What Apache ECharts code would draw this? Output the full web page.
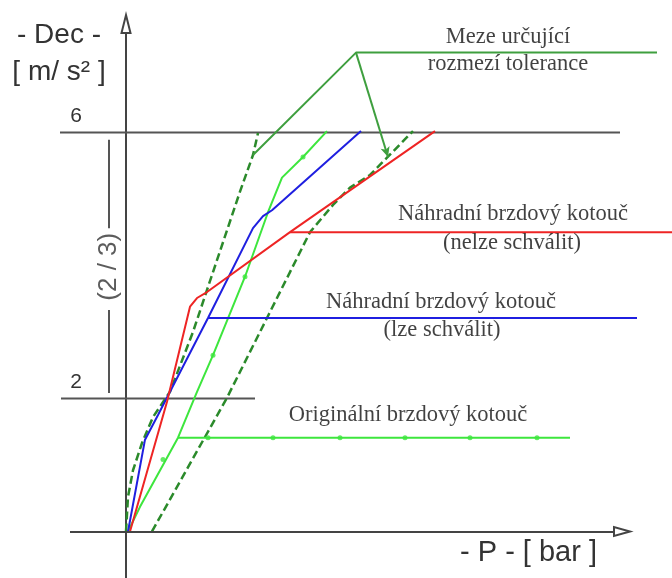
<!DOCTYPE html>
<html><head><meta charset="utf-8">
<script src="https://cdn.jsdelivr.net/npm/echarts@6/dist/echarts.min.js"></script>
<style>html,body{margin:0;padding:0;background:#fff}#c{width:672px;height:578px}</style>
</head><body><div id="c"></div>
<script>
// ---- values (x: pressure, arbitrary bar units; y: deceleration m/s²) ----
const yTickValues = [2, 6];
const xAxisLineX = [-5.6, 49.6];  const xAxisLineY = [0, 0];

const ref6X = [-6.6, 49.4];      const ref6Y = [6, 6];
const ref2X = [-6.5, 12.9];      const ref2Y = [2, 2];
const bracketAX = [-1.7, -1.7];  const bracketAY = [5.89, 4.56];
const bracketBX = [-1.7, -1.7];  const bracketBY = [3.33, 2.08];
const bracketText = ['(2 / 3)']; const bracketTX = [-1.7]; const bracketTY = [3.98];

const tolLowX  = [0, 0.2, 0.7, 1.6, 2.7, 4.4, 6.7, 8.7, 11.4, 12.7, 13.2];
const tolLowY  = [0, 0.52, 0.92, 1.33, 1.72, 2.10, 3.00, 3.90, 5.11, 5.66, 5.99];
const tolHighX = [2.6, 10.1, 14.1, 16.4, 18.4, 20.7, 22.4, 24.4, 26.1, 28.7];
const tolHighY = [0, 2.01, 3.21, 3.90, 4.50, 4.91, 5.17, 5.36, 5.62, 6.02];
const limitLinkX  = [12.7, 23.0, 53.1];
const limitLinkY  = [5.66, 7.20, 7.20];
const limitArrowX = [23.0, 26.2];
const limitArrowY = [7.20, 5.63];

const origX = [0.2, 1.4, 5.2, 7.1, 8.7, 11.9, 14.2, 15.6, 17.7, 20.1];
const origY = [0, 0.37, 1.41, 2.10, 2.65, 3.83, 4.80, 5.32, 5.63, 6.02];
const origLeaderX = [5.2, 44.4];  const origLeaderY = [1.41, 1.41];
const origMarkX = [3.7, 8.7, 11.9, 17.7, 8.2, 14.7, 21.4, 27.9, 34.4, 41.1];
const origMarkY = [1.08, 2.65, 3.83, 5.63, 1.41, 1.41, 1.41, 1.41, 1.41, 1.41];

const okX = [0.2, 1.9, 3.2, 8.2, 12.7, 13.7, 14.6, 23.5];
const okY = [0, 1.38, 1.75, 3.21, 4.56, 4.74, 4.83, 6.02];
const okLeaderX = [8.2, 51.1];   const okLeaderY = [3.21, 3.21];

const nokX = [0.4, 4.1, 6.4, 7.1, 8.1, 16.4, 30.9];
const nokY = [0, 1.95, 3.38, 3.51, 3.60, 4.50, 6.02];
const nokLeaderX = [16.4, 54.6]; const nokLeaderY = [4.50, 4.50];

const noteText = ['Meze určující', 'rozmezí tolerance', 'Náhradní brzdový kotouč', '(nelze schválit)',
                  'Náhradní brzdový kotouč', '(lze schválit)', 'Originální brzdový kotouč'];
const noteX = [38.2, 38.2, 38.7, 38.6, 31.5, 31.6, 28.2];
const noteY = [7.44, 7.03, 4.77, 4.34, 3.45, 3.03, 1.75];

const xName = '- P - [ bar ]';
const yName = '- Dec -\n[ m/ s² ]';

// ---- build ----
const zip = (xs, ys) => xs.map((x, i) => [x, ys[i]]);
const GRAY = '#555', AXIS = '#444', DKGREEN = '#2b8a2b', GREEN = '#3f9f3f', LIME = '#3de63d', BLUE = '#1f1fe0', RED = '#ee2424';

function line(name, xs, ys, color, width, type, extra) {
  return Object.assign({
    name, type: 'line', data: zip(xs, ys), symbol: 'none', clip: false, silent: true,
    lineStyle: { color, width, type: type || 'solid' }, z: 3
  }, extra || {});
}

const series = [
  {
    name: 'xAxisLine', type: 'line', data: [], silent: true,
    markLine: {
      silent: true, symbol: ['none', 'emptyTriangle'], symbolSize: [9, 16], animation: false,
      label: { show: false }, lineStyle: { color: AXIS, width: 2, type: 'solid' },
      data: [[{ coord: [xAxisLineX[0], xAxisLineY[0]] }, { coord: [xAxisLineX[1], xAxisLineY[1]] }]]
    }
  },
  line('ref6', ref6X, ref6Y, GRAY, 2),
  line('ref2', ref2X, ref2Y, GRAY, 2),
  line('bracketA', bracketAX, bracketAY, GRAY, 2),
  line('bracketB', bracketBX, bracketBY, GRAY, 2),
  line('tolLow', tolLowX, tolLowY, DKGREEN, 2.5, [8, 4]),
  line('tolHigh', tolHighX, tolHighY, DKGREEN, 2.5, [8, 4]),
  line('limitLink', limitLinkX, limitLinkY, GREEN, 2, 'solid', {
    markLine: {
      silent: true, symbol: ['none', 'arrow'], symbolSize: [7, 10], animation: false,
      label: { show: false }, lineStyle: { color: GREEN, width: 2, type: 'solid' },
      data: [[{ coord: [limitArrowX[0], limitArrowY[0]] }, { coord: [limitArrowX[1], limitArrowY[1]] }]]
    }
  }),
  line('orig', origX, origY, LIME, 2),
  line('origLeader', origLeaderX, origLeaderY, LIME, 2),
  {
    name: 'origMarks', type: 'scatter', data: zip(origMarkX, origMarkY), symbol: 'circle', symbolSize: 5,
    itemStyle: { color: LIME }, clip: false, silent: true, z: 4
  },
  line('ok', okX, okY, BLUE, 2),
  line('okLeader', okLeaderX, okLeaderY, BLUE, 2),
  line('nok', nokX, nokY, RED, 2),
  line('nokLeader', nokLeaderX, nokLeaderY, RED, 2),
  {
    name: 'notes', type: 'scatter', clip: false, silent: true, z: 6,
    data: noteText.map((t, i) => ({ value: [noteX[i], noteY[i]], name: t })),
    symbolSize: 1, itemStyle: { color: 'rgba(0,0,0,0)' },
    label: {
      show: true, position: 'inside', formatter: p => p.name, color: '#111',
      fontFamily: 'Liberation Serif', fontSize: 22.5, align: 'center', verticalAlign: 'middle'
    }
  },
  {
    name: 'bracketText', type: 'scatter', clip: false, silent: true, z: 6,
    data: bracketText.map((t, i) => ({ value: [bracketTX[i], bracketTY[i]], name: t })),
    symbolSize: 1, itemStyle: { color: 'rgba(0,0,0,0)' },
    label: {
      show: true, position: 'inside', formatter: p => p.name, color: '#333', rotate: 90,
      fontFamily: 'Liberation Sans', fontSize: 26, align: 'center', verticalAlign: 'middle',
      backgroundColor: '#fff'
    }
  }
];

const chart = echarts.init(document.getElementById('c'), null, { renderer: 'canvas' });
chart.setOption({
  animation: false,
  backgroundColor: '#fff',
  grid: { left: 0, right: 0, top: 24, bottom: 0, containLabel: false },
  xAxis: {
    type: 'value', min: -12.6, max: 54.6,
    axisLine: { show: false },
    axisTick: { show: false }, axisLabel: { show: false }, splitLine: { show: false },
    name: xName, nameLocation: 'end', nameGap: -75,
    nameTextStyle: { fontFamily: 'Liberation Sans', fontSize: 29, color: '#333',
                     align: 'right', verticalAlign: 'top', padding: [7, 0, 0, 0] }
  },
  yAxis: {
    type: 'value', min: -0.7, max: 7.63,
    axisLine: { show: true, onZero: true, lineStyle: { color: AXIS, width: 2 },
                symbol: ['none', 'emptyTriangle'], symbolSize: [9, 18] },
    axisTick: { show: false }, splitLine: { show: false },
    axisLabel: { show: true, customValues: yTickValues, margin: -82, color: '#333',
                 fontFamily: 'Liberation Sans', fontSize: 21, align: 'right',
                 verticalAlign: 'middle', lineHeight: 33, formatter: v => v + '\n ' },
    name: yName, nameLocation: 'end', nameGap: 7,
    nameTextStyle: { fontFamily: 'Liberation Sans', fontSize: 28, color: '#333', lineHeight: 37,
                     align: 'center', verticalAlign: 'top', padding: [0, 134, 0, 0] }
  },
  series
});
</script>
</body></html>
